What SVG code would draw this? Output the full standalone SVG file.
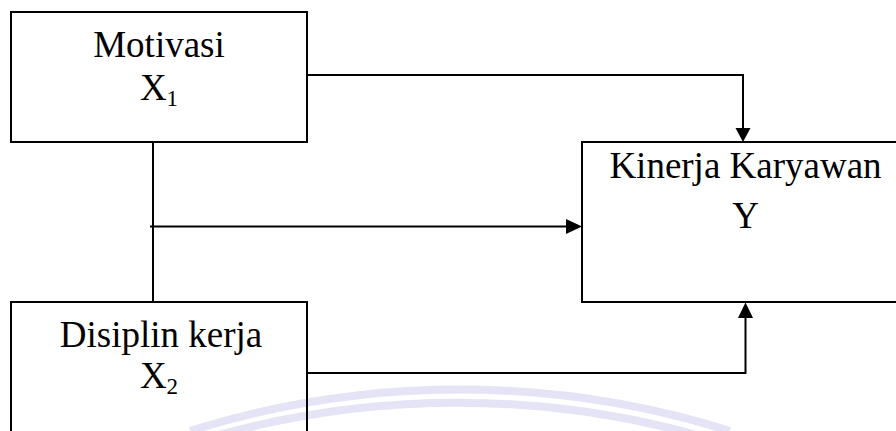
<svg xmlns="http://www.w3.org/2000/svg" width="896" height="431" viewBox="0 0 896 431">
<style>
.box{fill:none;stroke:#000;stroke-width:2}
.ln{fill:none;stroke:#000;stroke-width:2}
.t{font-family:"Liberation Serif","Times New Roman",serif;font-size:37px;fill:#000;text-anchor:middle}
.sub{font-size:23px}
.wm{fill:none;stroke:#e4e4f6;stroke-width:8}
</style>
<defs>
<marker id="ah" viewBox="0 0 10 10" refX="10" refY="5" markerWidth="8" markerHeight="8" markerUnits="userSpaceOnUse" orient="auto">
<path d="M0,0 L10,5 L0,10 Z" fill="#000"/>
</marker>
</defs>
<rect width="896" height="431" fill="#fff"/>
<g id="watermark">
<path class="wm" d="M190,431 A900,900 0 0 1 730,431"/>
<path class="wm" d="M215,436 A900,900 0 0 1 700,436" stroke-width="6"/>
</g>
<g id="connectors">
<polyline class="ln" points="307,75 743,75 743,128"/>
<path d="M735.5,128 L750.5,128 L743,142 Z" fill="#000"/>
<line class="ln" x1="153" y1="142" x2="153" y2="302"/>
<line class="ln" x1="150" y1="226.5" x2="566" y2="226.5"/>
<path d="M566,219 L582,226.5 L566,234 Z" fill="#000"/>
<polyline class="ln" points="307,373 745.5,373 745.5,318"/>
<path d="M738,318 L753,318 L745.5,302.5 Z" fill="#000"/>
</g>
<g id="motivasi">
<rect class="box" x="11" y="12" width="296" height="130"/>
<text class="t" x="159" y="57">Motivasi</text>
<text class="t" x="159" y="100">X<tspan class="sub" dy="6">1</tspan></text>
</g>
<g id="kinerja">
<rect class="box" x="582" y="142" width="330" height="160"/>
<text class="t" x="745.5" y="178">Kinerja Karyawan</text>
<text class="t" x="745.5" y="228">Y</text>
</g>
<g id="disiplin">
<rect class="box" x="11" y="302" width="296" height="140"/>
<text class="t" x="161" y="347">Disiplin kerja</text>
<text class="t" x="159" y="388">X<tspan class="sub" dy="6">2</tspan></text>
</g>
</svg>
